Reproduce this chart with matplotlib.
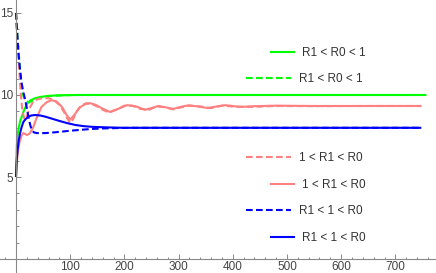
import matplotlib
matplotlib.use("Agg")
from matplotlib import pyplot as plt
from matplotlib.lines import Line2D
from matplotlib.ticker import MultipleLocator

# --- data ---
green_solid_t = [0, 0.5, 1, 1.5, 2.5, 4, 6, 8, 10.5, 14, 20, 27, 35, 45, 60, 80, 110, 757]
green_solid_v = [5, 5.8, 6.4, 6.9, 7.4, 7.8, 8.15, 8.45, 8.66, 9.0, 9.45, 9.68, 9.8, 9.88, 9.95, 9.98, 10, 10]

green_dash_t = [0, 4, 8, 11, 14, 18, 23, 28, 33, 40, 50, 65, 85, 110, 140, 757]
green_dash_v = [15, 13, 11.3, 10.3, 9.9, 9.65, 9.57, 9.6, 9.7, 9.8, 9.88, 9.94, 9.98, 10, 10, 10]

pink_dash_t = [0, 3, 6, 9, 12, 16, 20, 25, 32, 40, 50, 60, 70, 80, 88, 95, 100, 105, 112, 120,
               130, 140, 150, 160, 172, 185, 200, 215, 230, 245, 260, 275, 290, 305, 320, 340,
               360, 380, 400, 430, 480, 550, 650, 748]
pink_dash_v = [15, 13.2, 11.5, 10, 9, 8.5, 8.7, 9.2, 9.6, 9.75, 9.8, 9.8, 9.7, 9.4, 9.0, 8.55,
               8.3, 8.5, 9.0, 9.35, 9.5, 9.45, 9.3, 9.1, 8.93, 9.1, 9.35, 9.35, 9.15, 9.1, 9.3,
               9.25, 9.12, 9.25, 9.35, 9.3, 9.2, 9.35, 9.3, 9.27, 9.33, 9.32, 9.33, 9.33]

pink_solid_t = [0, 1, 2, 3, 4.3, 5.5, 7.4, 10, 13.5, 17, 20, 23, 26, 32, 38, 47, 57, 66, 75, 85,
                93, 100, 108, 118, 128, 137, 147, 158, 173, 188, 205, 222, 238, 250, 262, 276,
                290, 303, 318, 336, 354, 370, 386, 400, 413, 440, 480, 550, 650, 748]
pink_solid_v = [5, 5.6, 6.05, 6.4, 6.7, 6.95, 7.25, 7.5, 7.68, 7.62, 7.56, 7.6, 7.68, 8.05, 8.6,
                9.27, 9.57, 9.68, 9.6, 9.27, 8.8, 8.5, 8.8, 9.25, 9.45, 9.5, 9.4, 9.2, 8.97, 9.15,
                9.38, 9.3, 9.1, 9.2, 9.33, 9.25, 9.15, 9.27, 9.37, 9.3, 9.2, 9.3, 9.38, 9.33, 9.27,
                9.32, 9.35, 9.33, 9.33, 9.33]

blue_dash_t = [0, 4, 7, 10, 14, 17, 20, 23, 26, 29, 33, 38, 45, 55, 70, 85, 100, 120, 140, 160,
               180, 210, 260, 748]
blue_dash_v = [15, 12.8, 11.7, 10.8, 10.1, 9.7, 9.2, 8.66, 8.2, 7.87, 7.72, 7.68, 7.67, 7.68,
               7.72, 7.77, 7.82, 7.88, 7.93, 7.96, 7.98, 8, 8, 8]

blue_solid_t = [0, 1, 2, 3.5, 5, 7.4, 10, 13.5, 17, 22, 28, 35, 45, 55, 65, 80, 95, 110, 125,
                140, 155, 175, 200, 250, 748]
blue_solid_v = [5, 5.8, 6.3, 6.8, 7.2, 7.65, 8.0, 8.35, 8.5, 8.66, 8.75, 8.78, 8.75, 8.67, 8.57,
                8.42, 8.28, 8.17, 8.1, 8.06, 8.04, 8.02, 8.0, 8.0, 8.0]

labels = ["R1 < R0 < 1", "R1 < R0 < 1", "1 < R1 < R0", "1 < R1 < R0", "R1 < 1 < R0", "R1 < 1 < R0"]

GREEN = "#00ff00"
PINK = "#ff8080"
BLUE = "#0000ff"
DASH = (3.2, 1.6)
LW = 1.5

plt.rcParams["font.family"] = ["Liberation Sans", "DejaVu Sans"]
plt.rcParams["font.size"] = 8.5

fig = plt.figure(figsize=(4.36, 2.73), dpi=100)
ax = fig.add_axes([0, 0, 1, 1])

series = [
    (green_solid_t, green_solid_v, GREEN, False),
    (green_dash_t, green_dash_v, GREEN, True),
    (pink_dash_t, pink_dash_v, PINK, True),
    (pink_solid_t, pink_solid_v, PINK, False),
    (blue_dash_t, blue_dash_v, BLUE, True),
    (blue_solid_t, blue_solid_v, BLUE, False),
]
for t, v, c, dashed in series:
    ln, = ax.plot(t, v, color=c, lw=LW, solid_capstyle="butt")
    if dashed:
        ln.set_dashes(DASH)

ax.set_xlim(-29.5, 775)
ax.set_ylim(-0.85, 15.79)

for s in ["top", "right"]:
    ax.spines[s].set_visible(False)
ax.spines["left"].set_position(("data", 0))
ax.spines["bottom"].set_position(("data", 0))
for s in ["left", "bottom"]:
    ax.spines[s].set_color("#888888")
    ax.spines[s].set_linewidth(0.8)

ax.set_xticks([100, 200, 300, 400, 500, 600, 700])
ax.set_yticks([5, 10, 15])
ax.xaxis.set_minor_locator(MultipleLocator(20))
ax.yaxis.set_minor_locator(MultipleLocator(1))
ax.tick_params(which="both", direction="in", color="#888888", width=0.7, labelcolor="#444444",
               labelsize=8.5)
ax.tick_params(which="major", length=3.5)
ax.tick_params(which="minor", length=1.8)
ax.tick_params(axis="x", which="major", pad=1.5)
ax.tick_params(axis="y", which="major", pad=2)
ax.patch.set_visible(False)

# legend entries, one legend per entry so each handle keeps its own length
entry_y = [53, 79, 158, 185, 211, 238]
entry_style = [(GREEN, False), (GREEN, True), (PINK, True), (PINK, False), (BLUE, True), (BLUE, False)]
for lab, y, (c, dashed) in zip(labels, entry_y, entry_style):
    h = Line2D([], [], color=c, lw=LW)
    if dashed:
        h.set_dashes(DASH)
        x0, hl = 246, 3.8
    else:
        x0, hl = 271, 1.95
    leg = fig.legend([h], [lab], loc="center left", bbox_to_anchor=(x0 / 436, 1 - y / 273),
                     frameon=False, handlelength=hl, handletextpad=0.7, borderpad=0,
                     borderaxespad=0, fontsize=8.5)
    for txt in leg.get_texts():
        txt.set_color("#333333")

fig.savefig("out.png", dpi=100)
